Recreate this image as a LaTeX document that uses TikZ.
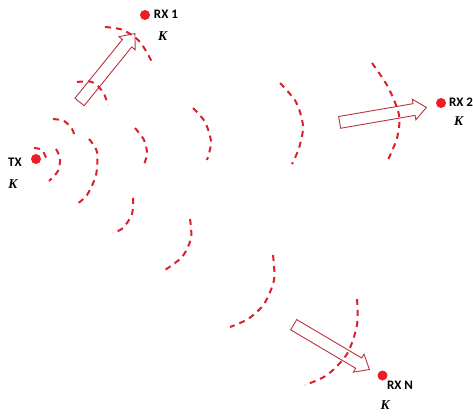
\documentclass[tikz,border=0pt]{standalone}
\usepackage{fontspec}
\setmainfont{Carlito}
\newfontfamily\kfont{Liberation Serif}
\usetikzlibrary{shapes.arrows}
\definecolor{wavered}{HTML}{D9202B}
\definecolor{dotred}{HTML}{EE1C25}
\definecolor{arrowred}{HTML}{B8333A}
\tikzset{
  wave/.style={draw=wavered, line width=2pt, dash pattern=on 6pt off 5pt},
  dot/.style={circle, fill=dotred, inner sep=0pt, minimum size=10pt},
  lbl/.style={font=\bfseries\fontsize{13}{13}\selectfont, inner sep=0pt},
  kay/.style={font=\kfont\bfseries\itshape\fontsize{13.5}{13.5}\selectfont, inner sep=0pt},
  fatarrow/.style={single arrow, draw=arrowred, line width=0.9pt, minimum height=88pt,
    single arrow head extend=4.5pt, single arrow tip angle=80, inner xsep=0pt, inner ysep=5.5pt}
}
\begin{document}
\begin{tikzpicture}[x=1pt,y=-1pt]
    \useasboundingbox (0,0) rectangle (473,415);

    \node[dot](tx) at (36,159){};
    \node[lbl](tx_l) at (15,162){TX};
    \node[kay](tx_k) at (13,184){K};

    \node[dot](rx_1) at (145,15){};
    \node[lbl](rx_1_l) at (166,14){RX 1};
    \node[kay](rx_1_k) at (162.5,36.5){K};

    \node[dot](rx_2) at (441,103){};
    \node[lbl](rx_2_l) at (461,102){RX 2};
    \node[kay](rx_2_k) at (458.5,121){K};

    \node[dot](rx_n) at (382.5,375.5){};
    \node[lbl](rx_n_l) at (400,385){RX N};
    \node[kay](rx_n_k) at (385,405){K};

    \node[fatarrow, rotate=51](arr_1) at (105,70.5){};
    \node[fatarrow, rotate=9.8](arr_2) at (379.5,115.5){};
    \node[fatarrow, rotate=-30.6](arr_n) at (328.5,345.3){};

    \draw[wave] plot[smooth] coordinates {(34,148) (42,150) (47,160)};
    \draw[wave] plot[smooth] coordinates {(56,149) (60,158) (58,171) (49,181)};
    \draw[wave] plot[smooth] coordinates {(53,119) (64,121) (72,129) (75,137)};
    \draw[wave] plot[smooth] coordinates {(89,139) (97,152) (96,175) (87,195) (77,204)};
    \draw[wave] plot[smooth] coordinates {(77,82) (92,82) (103,92) (108,105)};
    \draw[wave] plot[smooth] coordinates {(105,27) (123,30) (140,42) (152,62)};
    \draw[wave] plot[smooth] coordinates {(135,128) (144,140) (147,154) (143,167)};
    \draw[wave] plot[smooth] coordinates {(193,108) (205,122) (211,142) (207,160)};
    \draw[wave] plot[smooth] coordinates {(280,83) (296,102) (303,126) (299,148) (292,164)};
    \draw[wave] plot[smooth] coordinates {(372,63) (388,87) (399,115) (397,138) (387,162)};
    \draw[wave] plot[smooth] coordinates {(133,198) (132,214) (123,228) (113,233)};
    \draw[wave] plot[smooth] coordinates {(190,219) (191,238) (182,257) (162,272)};
    \draw[wave] plot[smooth] coordinates {(273,255) (274,280) (264,304) (248,319) (230,327)};
    \draw[wave] plot[smooth] coordinates {(357,299) (357,325) (347,354) (327,375) (305,385)};
  \end{tikzpicture}
\end{document}
